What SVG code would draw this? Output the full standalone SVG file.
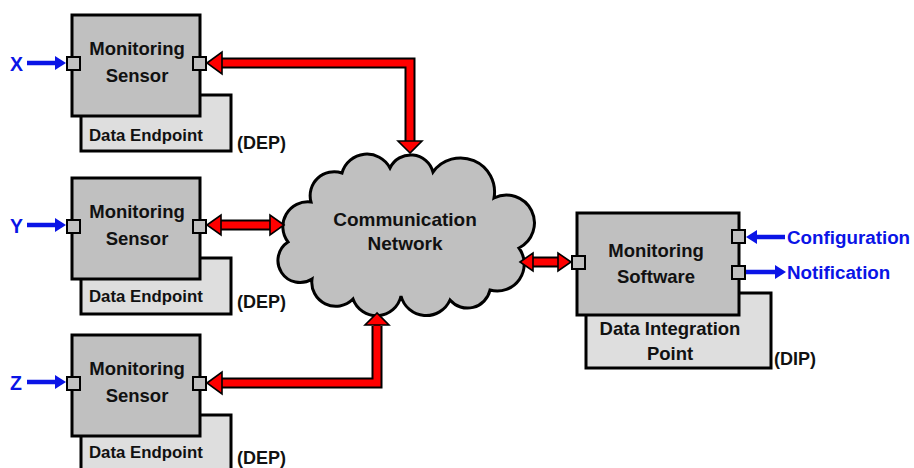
<svg xmlns="http://www.w3.org/2000/svg" width="914" height="468" viewBox="0 0 914 468">
  <style>
    text { font-family: "Liberation Sans", Arial, sans-serif; font-weight: bold; }
    .box { fill: #c0c0c0; stroke: #000; stroke-width: 3; }
    .back { fill: #dedede; stroke: #000; stroke-width: 3; }
    .port { fill: #c0c0c0; stroke: #000; stroke-width: 2; }
    .title { font-size: 18.5px; fill: #111; text-anchor: middle; }
    .sub { font-size: 16.8px; fill: #111; }
    .tag { font-size: 18px; fill: #111; }
    .blue { font-size: 19.5px; fill: #0a14e6; }
    .shaft-out { fill: none; stroke: #000; stroke-width: 11; stroke-linejoin: miter; }
    .shaft-in { fill: none; stroke: #ff0000; stroke-width: 7; stroke-linejoin: miter; }
    .head { fill: #ff0000; stroke: #000; stroke-width: 1.6; stroke-linejoin: miter; }
    .bshaft { fill: none; stroke: #0a14e6; stroke-width: 4.5; }
    .bhead { fill: #0a14e6; }
  </style>

  <!-- sensor nodes -->
  <g id="sensor-x" transform="translate(0,15)">
    <rect class="back" x="81" y="80" width="150" height="56"/>
    <rect class="box" x="72" y="0" width="128" height="101"/>
    <rect class="port" x="67" y="42" width="13" height="13"/>
    <rect class="port" x="193" y="42" width="13" height="13"/>
    <text class="title" x="137" y="40">Monitoring</text>
    <text class="title" x="137" y="67">Sensor</text>
    <text class="sub" x="89" y="126">Data Endpoint</text>
    <text class="tag" x="237" y="134">(DEP)</text>
  </g>
  <g id="sensor-y" transform="translate(0,178)">
    <rect class="back" x="81" y="80" width="150" height="56"/>
    <rect class="box" x="72" y="0" width="128" height="101"/>
    <rect class="port" x="67" y="42" width="13" height="13"/>
    <rect class="port" x="193" y="42" width="13" height="13"/>
    <text class="title" x="137" y="40">Monitoring</text>
    <text class="title" x="137" y="67">Sensor</text>
    <text class="sub" x="89" y="124">Data Endpoint</text>
    <text class="tag" x="237" y="130">(DEP)</text>
  </g>
  <g id="sensor-z" transform="translate(0,335)">
    <rect class="back" x="81" y="80" width="150" height="56"/>
    <rect class="box" x="72" y="0" width="128" height="101"/>
    <rect class="port" x="67" y="42" width="13" height="13"/>
    <rect class="port" x="193" y="42" width="13" height="13"/>
    <text class="title" x="137" y="40">Monitoring</text>
    <text class="title" x="137" y="67">Sensor</text>
    <text class="sub" x="89" y="123">Data Endpoint</text>
    <text class="tag" x="237" y="129">(DEP)</text>
  </g>

  <!-- network cloud -->
  <g id="network">
    <path class="box" d="M288,242 A25,25 0 0 1 311,202 A24,24 0 0 1 342,173 A26,26 0 0 1 390,168 A23,23 0 0 1 433,172 A34,34 0 0 1 494,198 A27,27 0 0 1 519,248 A27,27 0 0 1 490,290 A23,23 0 0 1 450,300 A26,26 0 0 1 401,296 A25,25 0 0 1 353,299 A24,24 0 0 1 312,279 A21,21 0 0 1 288,242 Z"/>
    <text class="title" x="405" y="226" style="font-size:19px">Communication</text>
    <text class="title" x="405" y="250" style="font-size:19px">Network</text>
  </g>

  <!-- software node -->
  <g id="software">
    <rect class="back" x="586" y="293" width="185" height="75"/>
    <rect class="box" x="577" y="213" width="162" height="102"/>
    <rect class="port" x="572" y="256" width="13" height="13"/>
    <rect class="port" x="732" y="230" width="13" height="13"/>
    <rect class="port" x="732" y="266" width="13" height="13"/>
    <text class="title" x="656" y="257">Monitoring</text>
    <text class="title" x="656" y="283">Software</text>
    <text class="title" x="670" y="335">Data Integration</text>
    <text class="title" x="670" y="360">Point</text>
    <text class="tag" x="774" y="365">(DIP)</text>
  </g>

  <!-- connectors -->
  <g id="connectors">
    <!-- sensor X to network -->
    <path class="shaft-out" d="M221,63 H410 V141"/>
    <path class="shaft-in" d="M219,63 H410 V143"/>
    <polygon class="head" points="207,63 222,52 222,74"/>
    <polygon class="head" points="410,153 398,141 422,141"/>

    <!-- sensor Y to network -->
    <path class="shaft-out" d="M220,225 H271"/>
    <path class="shaft-in" d="M218,225 H273"/>
    <polygon class="head" points="207,225 221,215 221,235"/>
    <polygon class="head" points="284,225 270,215 270,235"/>

    <!-- sensor Z to network -->
    <path class="shaft-out" d="M221,383 H377 V326"/>
    <path class="shaft-in" d="M219,383 H377 V324"/>
    <polygon class="head" points="207,383 222,372 222,394"/>
    <polygon class="head" points="377,313 365,325 389,325"/>

    <!-- network to software -->
    <path class="shaft-out" d="M532,262 H559"/>
    <path class="shaft-in" d="M530,262 H561"/>
    <polygon class="head" points="520,262 533,253 533,271"/>
    <polygon class="head" points="571,262 558,253 558,271"/>

    <!-- external inputs and outputs -->
    <path class="bshaft" d="M27,63 H57"/>
    <polygon class="bhead" points="66,63 55,56 55,70"/>
    <path class="bshaft" d="M27,225 H57"/>
    <polygon class="bhead" points="66,225 55,218 55,232"/>
    <path class="bshaft" d="M27,382 H57"/>
    <polygon class="bhead" points="66,382 55,375 55,389"/>
    <path class="bshaft" d="M756,237 H785"/>
    <polygon class="bhead" points="746,237 757,230 757,244"/>
    <path class="bshaft" d="M746,272 H776"/>
    <polygon class="bhead" points="786,272 775,265 775,279"/>
  </g>

  <!-- labels -->
  <text class="blue" x="10" y="71">X</text>
  <text class="blue" x="10" y="233">Y</text>
  <text class="blue" x="10" y="390">Z</text>
  <text class="blue" x="787" y="244" style="font-size:18.8px">Configuration</text>
  <text class="blue" x="787" y="279" style="font-size:18.8px">Notification</text>
</svg>
